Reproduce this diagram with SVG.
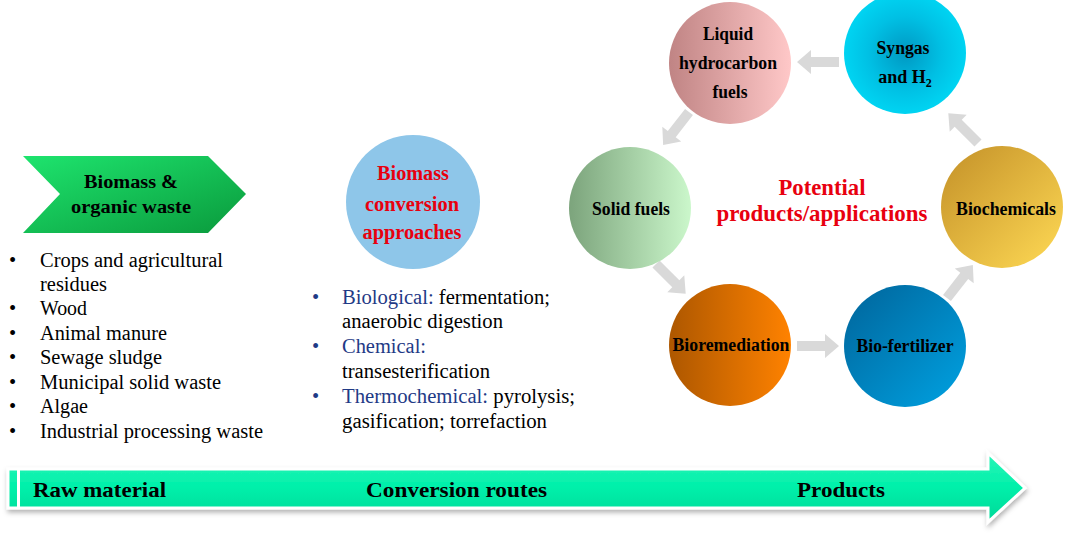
<svg xmlns="http://www.w3.org/2000/svg" width="1065" height="538" viewBox="0 0 1065 538" font-family="'Liberation Serif', 'Times New Roman', serif">
<defs>
<linearGradient id="gChev" x1="0" y1="0" x2="1" y2="1">
<stop offset="0" stop-color="#1ee46e"/><stop offset="1" stop-color="#0a9a3c"/></linearGradient>
<linearGradient id="gPink" x1="0" y1="0" x2="1" y2="0">
<stop offset="0" stop-color="#c08484"/><stop offset="1" stop-color="#ffc8c8"/></linearGradient>
<radialGradient id="gCyan" cx="0.5" cy="0.5" r="0.5">
<stop offset="0" stop-color="#0098c2"/><stop offset="0.6" stop-color="#00c0e4"/><stop offset="1" stop-color="#00d4f2"/></radialGradient>
<linearGradient id="gGreen" x1="0" y1="0" x2="1" y2="0">
<stop offset="0" stop-color="#7ca47c"/><stop offset="1" stop-color="#cbf7cb"/></linearGradient>
<linearGradient id="gGold" x1="0" y1="0" x2="1" y2="1">
<stop offset="0" stop-color="#c39028"/><stop offset="1" stop-color="#ffda55"/></linearGradient>
<linearGradient id="gOrange" x1="0" y1="0" x2="1" y2="0">
<stop offset="0" stop-color="#ad5700"/><stop offset="1" stop-color="#ff8200"/></linearGradient>
<linearGradient id="gBlue" x1="0" y1="0" x2="1" y2="1">
<stop offset="0" stop-color="#00649a"/><stop offset="1" stop-color="#00a2e2"/></linearGradient>
<linearGradient id="gBar" x1="0" y1="0" x2="0" y2="1">
<stop offset="0" stop-color="#2af5b8"/><stop offset="0.5" stop-color="#00f0aa"/><stop offset="1" stop-color="#00d898"/></linearGradient>
<filter id="shadow" x="-5%" y="-30%" width="110%" height="160%">
<feDropShadow dx="1" dy="3" stdDeviation="2.5" flood-color="#000" flood-opacity="0.3"/></filter>
<polygon id="blk" points="0,-5 28,-5 28,-12 42,0 28,12 28,5 0,5" fill="#d9d9d9"/>
</defs>
<style>
text{font-family:'Liberation Serif','Times New Roman',serif;}
.lbl{font-weight:bold;fill:#000;text-anchor:middle;font-size:18px;}
.red{font-weight:bold;fill:#e8000f;text-anchor:middle;}
.lst{font-size:20.5px;fill:#000;}
.blu{fill:#1f3a86;}
.bar{font-weight:bold;font-size:22px;fill:#000;}
</style>
<rect width="1065" height="538" fill="#fff"/>

<g id="raw-material">
<polygon points="23,156 208,156 246,194 208,233 23,233 60,194" fill="url(#gChev)"/>
<text class="lbl" x="131" y="188" font-size="20" textLength="94" lengthAdjust="spacingAndGlyphs">Biomass &amp;</text>
<text class="lbl" x="131" y="213" font-size="20" textLength="120" lengthAdjust="spacingAndGlyphs">organic waste</text>
<g class="lst">
<text x="9" y="267">•</text><text x="40" y="267" textLength="183" lengthAdjust="spacingAndGlyphs">Crops and agricultural</text>
<text x="40" y="291" textLength="67" lengthAdjust="spacingAndGlyphs">residues</text>
<text x="9" y="315">•</text><text x="40" y="315" textLength="47" lengthAdjust="spacingAndGlyphs">Wood</text>
<text x="9" y="340">•</text><text x="40" y="340" textLength="127" lengthAdjust="spacingAndGlyphs">Animal manure</text>
<text x="9" y="364">•</text><text x="40" y="364" textLength="122" lengthAdjust="spacingAndGlyphs">Sewage sludge</text>
<text x="9" y="389">•</text><text x="40" y="389" textLength="181" lengthAdjust="spacingAndGlyphs">Municipal solid waste</text>
<text x="9" y="413">•</text><text x="40" y="413" textLength="48" lengthAdjust="spacingAndGlyphs">Algae</text>
<text x="9" y="438">•</text><text x="40" y="438" textLength="223" lengthAdjust="spacingAndGlyphs">Industrial processing waste</text>
</g>
</g>

<g id="conversion">
<circle cx="413" cy="202" r="67" fill="#8ec6e9"/>
<text class="red" x="413" y="180" font-size="20.5" textLength="72" lengthAdjust="spacingAndGlyphs">Biomass</text>
<text class="red" x="412" y="211" font-size="20.5" textLength="94" lengthAdjust="spacingAndGlyphs">conversion</text>
<text class="red" x="412" y="239" font-size="20.5" textLength="99" lengthAdjust="spacingAndGlyphs">approaches</text>
<g class="lst">
<text x="312" y="304" class="blu">•</text><text x="342" y="304" textLength="208" lengthAdjust="spacingAndGlyphs"><tspan class="blu">Biological:</tspan> fermentation;</text>
<text x="342" y="328" textLength="161" lengthAdjust="spacingAndGlyphs">anaerobic digestion</text>
<text x="312" y="353" class="blu">•</text><text x="342" y="353" class="blu" textLength="84" lengthAdjust="spacingAndGlyphs">Chemical:</text>
<text x="342" y="378" textLength="148" lengthAdjust="spacingAndGlyphs">transesterification</text>
<text x="312" y="403" class="blu">•</text><text x="342" y="403" textLength="233" lengthAdjust="spacingAndGlyphs"><tspan class="blu">Thermochemical:</tspan> pyrolysis;</text>
<text x="342" y="428" textLength="205" lengthAdjust="spacingAndGlyphs">gasification; torrefaction</text>
</g>
</g>

<g id="connectors">
<use href="#blk" transform="translate(839,62) rotate(180)"/>
<use href="#blk" transform="translate(689,112) rotate(128)"/>
<use href="#blk" transform="translate(656,264) rotate(45)"/>
<use href="#blk" transform="translate(797,346)"/>
<use href="#blk" transform="translate(947,298) rotate(-52)"/>
<use href="#blk" transform="translate(978,143) rotate(-135)"/>
</g>

<g id="liquid-fuels">
<circle cx="730" cy="63" r="61" fill="url(#gPink)"/>
<text class="lbl" x="728" y="40" textLength="50" lengthAdjust="spacingAndGlyphs">Liquid</text>
<text class="lbl" x="728" y="69" textLength="98" lengthAdjust="spacingAndGlyphs">hydrocarbon</text>
<text class="lbl" x="730" y="98" textLength="35" lengthAdjust="spacingAndGlyphs">fuels</text>
</g>
<g id="syngas">
<circle cx="905" cy="53" r="61" fill="url(#gCyan)"/>
<text class="lbl" x="903" y="54" textLength="53" lengthAdjust="spacingAndGlyphs">Syngas</text>
<text class="lbl" x="905" y="83">and H<tspan font-size="12" dy="4">2</tspan></text>
</g>
<g id="solid-fuels">
<circle cx="630" cy="208" r="61" fill="url(#gGreen)"/>
<text class="lbl" x="631" y="215" textLength="78" lengthAdjust="spacingAndGlyphs">Solid fuels</text>
</g>
<g id="biochemicals">
<circle cx="1002" cy="207" r="61" fill="url(#gGold)"/>
<text class="lbl" x="1006" y="215" textLength="100" lengthAdjust="spacingAndGlyphs">Biochemicals</text>
</g>
<g id="bioremediation">
<circle cx="730" cy="345" r="61" fill="url(#gOrange)"/>
<text class="lbl" x="731" y="351" textLength="117" lengthAdjust="spacingAndGlyphs">Bioremediation</text>
</g>
<g id="bio-fertilizer">
<circle cx="905" cy="346" r="61" fill="url(#gBlue)"/>
<text class="lbl" x="905" y="352" textLength="97" lengthAdjust="spacingAndGlyphs">Bio-fertilizer</text>
</g>
<g id="potential">
<text class="red" x="822" y="195" font-size="23" textLength="87" lengthAdjust="spacingAndGlyphs">Potential</text>
<text class="red" x="822" y="221" font-size="23" textLength="211" lengthAdjust="spacingAndGlyphs">products/applications</text>
</g>

<g id="timeline">
<polygon points="8,469 988,469 988,453 1025,488 988,522 988,508 8,508" fill="url(#gBar)" stroke="#fff" stroke-width="3" filter="url(#shadow)"/>
<rect x="17" y="470" width="3" height="37" fill="#fff"/>
<text class="bar" x="33" y="497" textLength="133" lengthAdjust="spacingAndGlyphs">Raw material</text>
<text class="bar" x="366" y="497" textLength="181" lengthAdjust="spacingAndGlyphs">Conversion routes</text>
<text class="bar" x="797" y="497" textLength="88" lengthAdjust="spacingAndGlyphs">Products</text>
</g>
</svg>
